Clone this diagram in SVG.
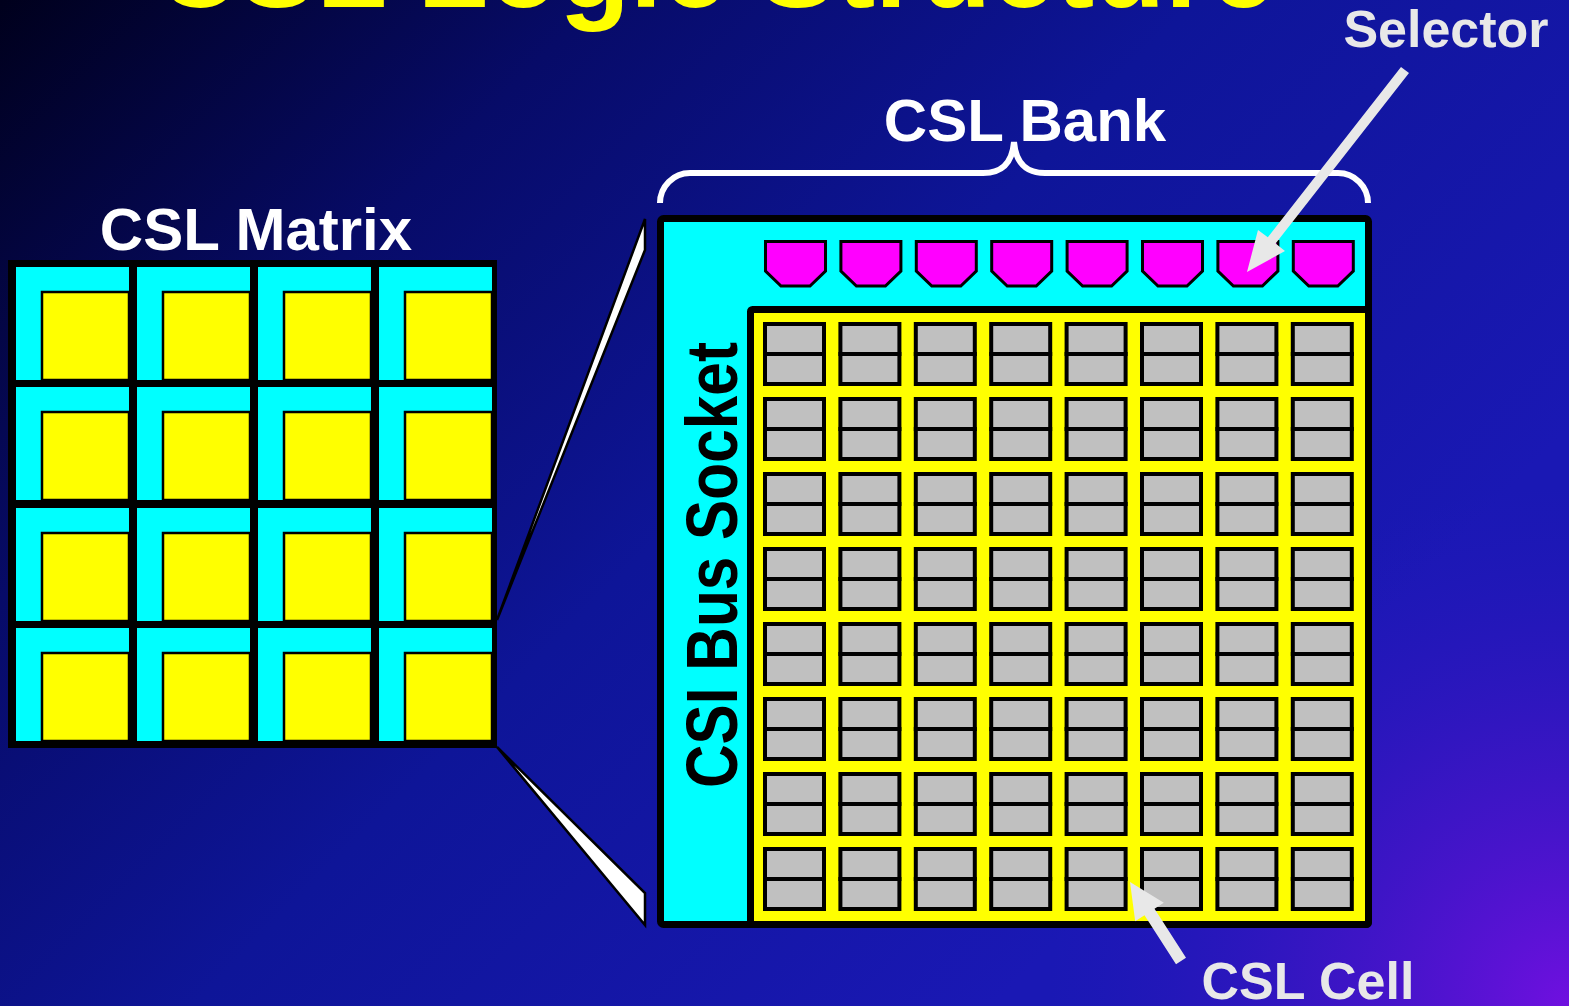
<svg xmlns="http://www.w3.org/2000/svg" xmlns:xlink="http://www.w3.org/1999/xlink" width="1569" height="1006" viewBox="0 0 1569 1006">
<style>
.lbl{font-family:"Liberation Sans",Arial,sans-serif;font-weight:bold;}
.white{fill:#ffffff;}
.grey{fill:#e8e8e8;}
</style>
<defs>
<linearGradient id="bg" gradientUnits="userSpaceOnUse" x1="0" y1="0" x2="1000" y2="1000">
<stop offset="0" stop-color="#00001c"/>
<stop offset="0.3" stop-color="#070b68"/>
<stop offset="0.6" stop-color="#0e1598"/>
<stop offset="1" stop-color="#1a18b4"/>
</linearGradient>
<radialGradient id="purp" gradientUnits="userSpaceOnUse" cx="1569" cy="1006" r="520">
<stop offset="0" stop-color="#7010e0" stop-opacity="1"/>
<stop offset="0.5" stop-color="#4a14cc" stop-opacity="0.6"/>
<stop offset="1" stop-color="#2a16c0" stop-opacity="0"/>
</radialGradient>
<g id="mcell">
<rect x="0" y="0" width="113" height="113" fill="#00ffff"/>
<rect x="26" y="25" width="87" height="88" fill="#ffff00" stroke="#000" stroke-width="2.5"/>
</g>
<g id="bcell">
<rect x="2" y="2" width="59" height="60" fill="#c0c0c0" stroke="#000" stroke-width="4"/>
<line x1="0" y1="32" x2="63" y2="32" stroke="#000" stroke-width="4"/>
</g>
<g id="bcellrow">
<use xlink:href="#bcell" x="0"/>
<use xlink:href="#bcell" x="75.4"/>
<use xlink:href="#bcell" x="150.8"/>
<use xlink:href="#bcell" x="226.2"/>
<use xlink:href="#bcell" x="301.6"/>
<use xlink:href="#bcell" x="377"/>
<use xlink:href="#bcell" x="452.4"/>
<use xlink:href="#bcell" x="527.8"/>
</g>
<path id="sel" d="M1.5,1.5 H61.5 V31 L46,46 H17 L1.5,31 Z" fill="#ff00ff" stroke="#000" stroke-width="3" stroke-linejoin="miter"/>
</defs>

<rect x="0" y="0" width="1569" height="1006" fill="url(#bg)"/>
<rect x="0" y="0" width="1569" height="1006" fill="url(#purp)"/>

<g id="title">
<text class="lbl" x="715" y="7" font-size="116" fill="#ffff00" text-anchor="middle">CSL Logic Structure</text>
</g>

<g id="csl-matrix">
<text class="lbl white" x="256" y="250" font-size="60" text-anchor="middle">CSL Matrix</text>
<rect x="8" y="260" width="489" height="488" fill="#000"/>
<use xlink:href="#mcell" x="16" y="267"/>
<use xlink:href="#mcell" x="137" y="267"/>
<use xlink:href="#mcell" x="258" y="267"/>
<use xlink:href="#mcell" x="379" y="267"/>
<use xlink:href="#mcell" x="16" y="387"/>
<use xlink:href="#mcell" x="137" y="387"/>
<use xlink:href="#mcell" x="258" y="387"/>
<use xlink:href="#mcell" x="379" y="387"/>
<use xlink:href="#mcell" x="16" y="508"/>
<use xlink:href="#mcell" x="137" y="508"/>
<use xlink:href="#mcell" x="258" y="508"/>
<use xlink:href="#mcell" x="379" y="508"/>
<use xlink:href="#mcell" x="16" y="628"/>
<use xlink:href="#mcell" x="137" y="628"/>
<use xlink:href="#mcell" x="258" y="628"/>
<use xlink:href="#mcell" x="379" y="628"/>
</g>

<g id="csl-bank">
<text class="lbl white" x="1025" y="141" font-size="60" text-anchor="middle">CSL Bank</text>
<rect x="660.5" y="218.5" width="708" height="706" rx="3" fill="#00ffff" stroke="#000" stroke-width="7"/>
<rect x="750.5" y="309.5" width="618" height="615" rx="2" fill="#ffff00" stroke="#000" stroke-width="7"/>
<text class="lbl" transform="translate(737,565) rotate(-90)" font-size="73" fill="#000" text-anchor="middle" textLength="446" lengthAdjust="spacingAndGlyphs">CSI Bus Socket</text>
</g>

<g id="selectors">
<use xlink:href="#sel" x="764" y="240"/>
<use xlink:href="#sel" x="839.4" y="240"/>
<use xlink:href="#sel" x="914.8" y="240"/>
<use xlink:href="#sel" x="990.2" y="240"/>
<use xlink:href="#sel" x="1065.6" y="240"/>
<use xlink:href="#sel" x="1141" y="240"/>
<use xlink:href="#sel" x="1216.4" y="240"/>
<use xlink:href="#sel" x="1291.8" y="240"/>
</g>

<g id="csl-cells">
<use xlink:href="#bcellrow" x="763" y="322"/>
<use xlink:href="#bcellrow" x="763" y="397"/>
<use xlink:href="#bcellrow" x="763" y="472"/>
<use xlink:href="#bcellrow" x="763" y="547"/>
<use xlink:href="#bcellrow" x="763" y="622"/>
<use xlink:href="#bcellrow" x="763" y="697"/>
<use xlink:href="#bcellrow" x="763" y="772"/>
<use xlink:href="#bcellrow" x="763" y="847"/>
</g>

<g id="selector-label">
<text class="lbl grey" x="1446" y="47" font-size="52" text-anchor="middle">Selector</text>
</g>
<g id="cell-label">
<text class="lbl grey" x="1308" y="999" font-size="52" text-anchor="middle">CSL Cell</text>
</g>

<g id="connectors">
<polygon points="497,620 645,219 645,250" fill="#ffffff" stroke="#000" stroke-width="2.5" stroke-linejoin="miter"/>
<polygon points="497,747 645,893 645,925" fill="#ffffff" stroke="#000" stroke-width="2.5" stroke-linejoin="miter"/>
<path d="M660,203 A30,30 0 0 1 690,173 H983 C1000,173 1012,165 1014,142 C1016,165 1028,173 1045,173 H1338 A30,30 0 0 1 1368,203" fill="none" stroke="#ffffff" stroke-width="6"/>
<polygon points="1401,67 1267.8,237.3 1258,230 1247,272 1285,251 1275.6,243.5 1409,73" fill="#e8e8e8"/>
<polygon points="1130,882 1163.8,902.8 1154.5,908.7 1186,957.7 1176,964.3 1144.5,915.3 1135.2,921.2" fill="#e8e8e8"/>
</g>
</svg>
